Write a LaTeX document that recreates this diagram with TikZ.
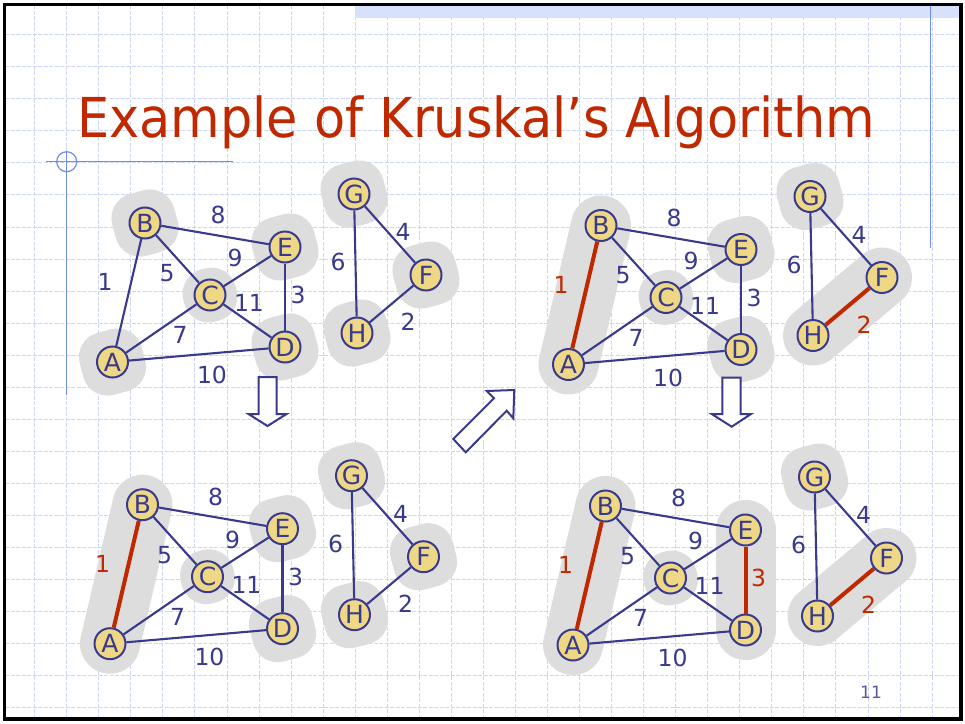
\documentclass[tikz,border=0pt]{standalone}
\usepackage{fontspec}
\setmainfont{DejaVu Sans}
\usepackage{graphicx}
\usepackage{xcolor}
\definecolor{kblue}{RGB}{58,58,140}
\definecolor{kyellow}{RGB}{238,216,134}
\definecolor{kgray}{RGB}{221,221,221}
\definecolor{kred}{RGB}{192,40,0}
\definecolor{kgrid}{RGB}{205,214,250}
\definecolor{kband}{RGB}{216,225,252}
\definecolor{kline}{RGB}{112,140,240}
\definecolor{kpage}{RGB}{90,90,160}
\pgfdeclarelayer{grid}
\pgfdeclarelayer{blobs}
\pgfsetlayers{grid,blobs,main}
\tikzset{
  vtx/.style     = {circle, draw=kblue, fill=kyellow, line width=2pt,
                    minimum size=31pt, inner sep=0pt, text=kblue,
                    font=\fontsize{25}{25}\selectfont},
  link/.style    = {kblue, line width=2.1pt},
  lbl/.style     = {kblue, inner sep=0pt, font=\fontsize{23.5}{23.5}\selectfont},
  mst/.style     = {kred, line width=4pt},
  blob/.style    = {rectangle, rounded corners=25pt, minimum size=64pt,
                    fill=kgray, rotate=15},
  blobbar/.style = {kgray, line width=60pt, line cap=round},
  gridline/.style= {kgrid, line width=0.7pt, dash pattern=on 4pt off 1.5pt},
  hollow/.style  = {draw=kblue, fill=white, line width=2pt, line join=miter},
  w1/.style={}, w2/.style={}, w3/.style={},
}
% one copy of the graph, nodes named #1A ... #1H
\newcommand{\kruskalgraph}[1]{%
  \node[vtx] (#1A) at (112.5,362) {A};
  \node[vtx] (#1B) at (145,223) {B};
  \node[vtx] (#1C) at (210,295) {C};
  \node[vtx] (#1D) at (285,347) {D};
  \node[vtx] (#1E) at (285,247) {E};
  \node[vtx] (#1F) at (426,275) {F};
  \node[vtx] (#1G) at (354,194) {G};
  \node[vtx] (#1H) at (357,333) {H};
  \draw[link, w1] (#1A) -- (#1B);
  \draw[link] (#1B) -- (#1E);
  \draw[link] (#1B) -- (#1C);
  \draw[link] (#1C) -- (#1E);
  \draw[link] (#1C) -- (#1D);
  \draw[link, w3] (#1E) -- (#1D);
  \draw[link] (#1A) -- (#1C);
  \draw[link] (#1A) -- (#1D);
  \draw[link] (#1G) -- (#1H);
  \draw[link] (#1G) -- (#1F);
  \draw[link, w2] (#1H) -- (#1F);
  \node[lbl, w1] (#1w1) at (105,282) {1};
  \node[lbl] (#1w8) at (218,215) {8};
  \node[lbl] (#1w5) at (167,273) {5};
  \node[lbl] (#1w9) at (235,258) {9};
  \node[lbl] (#1w11) at (249,303) {11};
  \node[lbl, w3] (#1w3) at (298,295) {3};
  \node[lbl] (#1w7) at (180,335) {7};
  \node[lbl] (#1w10) at (212,375) {10};
  \node[lbl] (#1w6) at (338,262) {6};
  \node[lbl] (#1w4) at (403,232) {4};
  \node[lbl, w2] (#1w2) at (408,322) {2};
}

\begin{document}
\begin{tikzpicture}[x=1pt, y=-1pt]
  \useasboundingbox (0,0) rectangle (965,723);

  \begin{pgfonlayer}{grid}
    \fill[white] (0,0) rectangle (965,723);
    \foreach \k in {1,...,29}
      \draw[gridline] (2.5+32.05*\k,5) -- (2.5+32.05*\k,718);
    \foreach \k in {1,...,22}
      \draw[gridline] (5,2.5+32.05*\k) -- (959,2.5+32.05*\k);
    \fill[kband] (355,6) rectangle (959,18.3);
  \end{pgfonlayer}

  % slide decoration
  \draw[kline, line width=1.5pt] (930.7,6) -- (930.7,248);
  \draw[kline, line width=1.2pt] (46,161.7) -- (233,161.7);
  \draw[kline, line width=1.5pt] (66.7,151.7) -- (66.7,395);
  \draw[kline, line width=1.2pt] (66.7,161.7) circle[radius=10pt];

  \node[anchor=base west, inner sep=0pt, text=kred,
        font=\fontsize{55}{55}\selectfont] (title) at (77,137)
    {\scalebox{0.926}[1]{Example of Kruskal’s Algorithm}};

  % initial forest
  \begin{scope}
    \kruskalgraph{a}
    \begin{pgfonlayer}{blobs}
      \foreach \v in {A,B,D,E,F,G,H}
        \node[blob] (ab\v) at (a\v) {};
      \node[blob, minimum size=54pt] (abC) at (aC) {};
    \end{pgfonlayer}
  \end{scope}

  % after edge 1
  \begin{scope}[shift={(-2.5,281.7)}, w1/.style={mst}]
    \kruskalgraph{b}
    \begin{pgfonlayer}{blobs}
      \draw[blobbar] (bA.center) -- (bB.center);
      \foreach \v in {D,E,F,G,H}
        \node[blob] (bb\v) at (b\v) {};
      \node[blob, minimum size=54pt] (bbC) at (bC) {};
    \end{pgfonlayer}
  \end{scope}

  % after edge 2
  \begin{scope}[shift={(456,2.5)}, w1/.style={mst}, w2/.style={mst}]
    \kruskalgraph{c}
    \begin{pgfonlayer}{blobs}
      \draw[blobbar] (cA.center) -- (cB.center);
      \draw[blobbar] (cH.center) -- (cF.center);
      \foreach \v in {D,E,G}
        \node[blob] (cb\v) at (c\v) {};
      \node[blob, minimum size=54pt] (cbC) at (cC) {};
    \end{pgfonlayer}
  \end{scope}

  % after edge 3
  \begin{scope}[shift={(460.5,283)}, w1/.style={mst}, w2/.style={mst},
                w3/.style={mst}]
    \kruskalgraph{d}
    \begin{pgfonlayer}{blobs}
      \draw[blobbar] (dA.center) -- (dB.center);
      \draw[blobbar] (dH.center) -- (dF.center);
      \draw[blobbar] (dE.center) -- (dD.center);
      \node[blob] (dbG) at (dG) {};
      \node[blob, minimum size=54pt] (dbC) at (dC) {};
    \end{pgfonlayer}
  \end{scope}

  % hollow arrows
  \draw[hollow] (258.5,377) -- (276.5,377) -- (276.5,414) -- (286.5,414)
    -- (267.5,426) -- (248.5,414) -- (258.5,414) -- cycle;
  \draw[hollow] (722.3,377.7) -- (740.7,377.7) -- (740.7,414) -- (751,414)
    -- (731.7,426.7) -- (711.7,414) -- (722.3,414) -- cycle;
  \draw[hollow] (514.3,390) -- (486.7,391) -- (494,398.3) -- (453.3,439)
    -- (465.7,452.3) -- (506.7,410.7) -- (513.3,418.3) -- cycle;

  \node[text=kpage, font=\fontsize{17}{17}\selectfont, inner sep=0pt]
    (pageno) at (871,692) {11};

  \draw[line width=3.5pt] (4.5,4.5) rectangle (961,719);
\end{tikzpicture}
\end{document}
